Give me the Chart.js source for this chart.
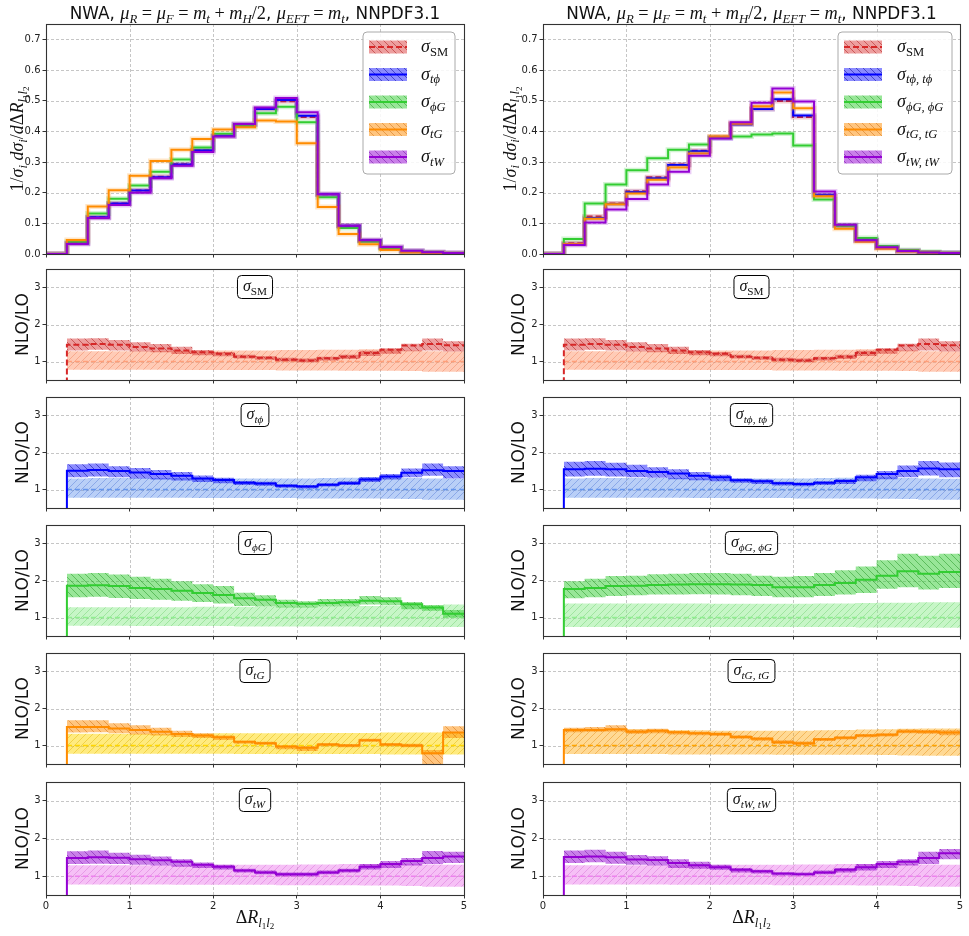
<!DOCTYPE html>
<html><head><meta charset="utf-8">
<script src="https://cdn.jsdelivr.net/npm/chart.js@4.4.1/dist/chart.umd.min.js"></script>
<style>
html,body{margin:0;padding:0;background:#fff}
body{width:969px;height:936px;position:relative;overflow:hidden}
canvas{position:absolute}
</style></head><body>
<script>
// ---------------- DATA ----------------
const binEdges = [0,0.25,0.5,0.75,1,1.25,1.5,1.75,2,2.25,2.5,2.75,3,3.25,3.5,3.75,4,4.25,4.5,4.75,5];
const xTicks = [0,1,2,3,4,5];
const topYTicks = [0,0.1,0.2,0.3,0.4,0.5,0.6,0.7];
const ratioYTicks = [1,2,3];

// normalised distributions (20 bins, first bin 0-0.25 empty)
const topL_SM = [0,0.035,0.120,0.165,0.207,0.252,0.293,0.338,0.385,0.423,0.473,0.498,0.447,0.195,0.092,0.045,0.022,0.010,0.006,0.003];
const topL_tp = [0,0.035,0.120,0.165,0.207,0.250,0.292,0.338,0.385,0.423,0.473,0.502,0.451,0.195,0.092,0.045,0.022,0.010,0.006,0.003];
const topL_pg = [0,0.040,0.132,0.180,0.223,0.268,0.308,0.347,0.392,0.417,0.459,0.480,0.430,0.185,0.085,0.040,0.018,0.008,0.004,0.002];
const topL_tg = [0,0.046,0.155,0.208,0.255,0.303,0.340,0.375,0.406,0.413,0.435,0.432,0.361,0.153,0.065,0.032,0.013,0.005,0.003,0.001];
const topL_tw = [0,0.033,0.117,0.160,0.200,0.247,0.288,0.333,0.383,0.424,0.478,0.509,0.462,0.195,0.092,0.045,0.023,0.011,0.006,0.003];

const topR_SM = [0,0.035,0.122,0.165,0.205,0.250,0.292,0.337,0.382,0.425,0.473,0.499,0.447,0.190,0.093,0.045,0.020,0.010,0.005,0.003];
const topR_tp = [0,0.033,0.117,0.163,0.202,0.247,0.290,0.335,0.378,0.422,0.473,0.505,0.452,0.193,0.093,0.045,0.021,0.010,0.005,0.003];
const topR_pg = [0,0.049,0.165,0.227,0.273,0.312,0.340,0.357,0.380,0.383,0.390,0.393,0.354,0.178,0.092,0.052,0.026,0.013,0.007,0.004];
const topR_tg = [0,0.033,0.115,0.162,0.197,0.242,0.282,0.328,0.383,0.425,0.482,0.527,0.475,0.188,0.082,0.040,0.017,0.008,0.004,0.002];
const topR_tw = [0,0.029,0.103,0.145,0.179,0.227,0.268,0.320,0.377,0.430,0.493,0.540,0.497,0.204,0.095,0.045,0.022,0.010,0.005,0.003];

// NLO/LO ratios, bins 0.25 .. 5 (19 bins)
const SM_nlo  = [1.45,1.47,1.45,1.39,1.35,1.30,1.25,1.21,1.13,1.10,1.05,1.03,1.09,1.13,1.23,1.32,1.43,1.47,1.44];
const SM_up   = [1.62,1.63,1.58,1.52,1.47,1.40,1.31,1.26,1.18,1.14,1.10,1.08,1.13,1.18,1.29,1.36,1.48,1.62,1.55];
const SM_dn   = [1.30,1.32,1.30,1.27,1.25,1.20,1.17,1.14,1.08,1.05,1.00,0.98,1.03,1.07,1.15,1.21,1.28,1.30,1.27];
const SM_loUp = [1.28,1.28,1.28,1.28,1.29,1.29,1.29,1.30,1.30,1.30,1.31,1.31,1.32,1.32,1.33,1.33,1.30,1.28,1.27];
const SM_loDn = [0.78,0.78,0.78,0.78,0.78,0.77,0.77,0.77,0.77,0.77,0.76,0.76,0.76,0.75,0.75,0.75,0.74,0.72,0.72];

const L_tp_nlo = [1.51,1.53,1.50,1.46,1.42,1.37,1.30,1.26,1.18,1.16,1.10,1.08,1.13,1.17,1.27,1.35,1.45,1.52,1.50];
const L_tp_up  = [1.68,1.70,1.63,1.58,1.53,1.47,1.38,1.32,1.23,1.21,1.14,1.12,1.17,1.22,1.33,1.42,1.57,1.70,1.63];
const L_tp_dn  = [1.33,1.35,1.33,1.30,1.27,1.24,1.20,1.17,1.12,1.10,1.05,1.03,1.08,1.12,1.20,1.27,1.33,1.37,1.30];
const R_tp_nlo = [1.55,1.56,1.55,1.50,1.47,1.43,1.37,1.33,1.25,1.22,1.17,1.15,1.18,1.23,1.33,1.42,1.50,1.57,1.55];
const R_tp_up  = [1.75,1.77,1.72,1.67,1.60,1.55,1.47,1.40,1.30,1.27,1.21,1.19,1.22,1.28,1.40,1.50,1.65,1.77,1.73];
const R_tp_dn  = [1.35,1.37,1.35,1.33,1.32,1.28,1.25,1.22,1.18,1.15,1.11,1.09,1.12,1.15,1.22,1.28,1.33,1.38,1.33];
const tp_loUp  = [1.30,1.31,1.31,1.31,1.31,1.31,1.30,1.30,1.30,1.30,1.30,1.30,1.31,1.32,1.33,1.33,1.31,1.30,1.29];
const tp_loDn  = [0.78,0.78,0.78,0.78,0.78,0.78,0.77,0.77,0.77,0.77,0.77,0.76,0.76,0.76,0.76,0.75,0.74,0.72,0.72];

const L_pg_nlo  = [1.86,1.87,1.85,1.80,1.77,1.72,1.66,1.61,1.52,1.48,1.39,1.37,1.39,1.41,1.45,1.44,1.36,1.27,1.10];
const L_pg_up   = [2.18,2.20,2.16,2.10,2.05,1.98,1.90,1.85,1.67,1.60,1.48,1.44,1.50,1.50,1.58,1.55,1.42,1.33,1.20];
const L_pg_dn   = [1.55,1.56,1.53,1.50,1.48,1.45,1.42,1.38,1.31,1.30,1.27,1.27,1.30,1.30,1.35,1.33,1.22,1.18,1.00];
const L_pg_loUp = [1.28,1.28,1.28,1.28,1.28,1.28,1.29,1.29,1.29,1.29,1.29,1.29,1.30,1.30,1.31,1.32,1.34,1.34,1.35];
const L_pg_loDn = [0.78,0.78,0.78,0.77,0.77,0.77,0.77,0.77,0.76,0.76,0.76,0.76,0.76,0.76,0.75,0.75,0.75,0.74,0.74];
const R_pg_nlo  = [1.77,1.80,1.85,1.86,1.88,1.89,1.90,1.90,1.89,1.88,1.82,1.82,1.88,1.93,2.02,2.13,2.25,2.18,2.23];
const R_pg_up   = [1.98,2.05,2.12,2.13,2.17,2.18,2.20,2.20,2.18,2.13,2.10,2.12,2.20,2.28,2.38,2.55,2.72,2.67,2.72];
const R_pg_dn   = [1.52,1.55,1.58,1.60,1.62,1.62,1.63,1.62,1.60,1.58,1.55,1.55,1.58,1.62,1.66,1.78,1.82,1.76,1.80];
const R_pg_loUp = [1.38,1.38,1.38,1.38,1.38,1.38,1.38,1.37,1.37,1.37,1.37,1.37,1.38,1.38,1.39,1.40,1.40,1.41,1.41];
const R_pg_loDn = [0.74,0.74,0.74,0.74,0.74,0.74,0.74,0.74,0.74,0.74,0.74,0.74,0.74,0.74,0.73,0.73,0.73,0.72,0.72];

const L_tg_nlo  = [1.50,1.50,1.46,1.42,1.37,1.31,1.27,1.22,1.10,1.06,0.97,0.94,1.03,1.00,1.14,1.03,1.00,0.79,1.35];
const L_tg_up   = [1.68,1.68,1.60,1.55,1.48,1.40,1.33,1.27,1.13,1.10,1.00,0.98,1.07,1.04,1.18,1.07,1.05,0.88,1.52];
const L_tg_dn   = [1.35,1.36,1.33,1.30,1.27,1.23,1.20,1.15,1.05,1.02,0.90,0.85,0.98,0.95,1.10,0.98,0.95,0.48,1.20];
const L_tg_loUp = [1.32,1.32,1.32,1.32,1.32,1.32,1.32,1.33,1.33,1.33,1.33,1.33,1.34,1.34,1.34,1.35,1.35,1.35,1.35];
const L_tg_loDn = [0.78,0.78,0.78,0.78,0.78,0.78,0.78,0.78,0.77,0.77,0.77,0.77,0.77,0.77,0.77,0.76,0.76,0.76,0.76];
const R_tg_nlo  = [1.42,1.42,1.44,1.37,1.40,1.36,1.33,1.31,1.23,1.18,1.09,1.06,1.17,1.21,1.27,1.29,1.38,1.37,1.35];
const R_tg_up   = [1.48,1.50,1.55,1.43,1.45,1.39,1.37,1.35,1.28,1.22,1.14,1.11,1.20,1.25,1.31,1.33,1.43,1.42,1.41];
const R_tg_dn   = [1.36,1.37,1.38,1.32,1.33,1.30,1.28,1.26,1.18,1.13,1.04,1.01,1.12,1.16,1.22,1.24,1.33,1.32,1.28];
const R_tg_loUp = [1.45,1.45,1.45,1.44,1.43,1.42,1.41,1.40,1.40,1.40,1.40,1.40,1.41,1.42,1.43,1.44,1.45,1.46,1.46];
const R_tg_loDn = [0.77,0.77,0.77,0.77,0.77,0.76,0.76,0.76,0.76,0.76,0.75,0.75,0.75,0.75,0.75,0.74,0.73,0.72,0.72];

const L_tw_nlo = [1.48,1.50,1.49,1.45,1.42,1.38,1.30,1.25,1.15,1.10,1.05,1.05,1.10,1.15,1.25,1.32,1.40,1.48,1.52];
const L_tw_up  = [1.66,1.68,1.62,1.57,1.52,1.45,1.36,1.30,1.20,1.15,1.10,1.10,1.15,1.20,1.32,1.40,1.48,1.67,1.65];
const L_tw_dn  = [1.32,1.33,1.32,1.30,1.28,1.25,1.22,1.18,1.10,1.05,1.00,1.00,1.05,1.10,1.18,1.22,1.28,1.32,1.35];
const R_tw_nlo = [1.51,1.52,1.50,1.44,1.43,1.35,1.29,1.24,1.17,1.13,1.07,1.05,1.10,1.17,1.24,1.32,1.38,1.48,1.61];
const R_tw_up  = [1.68,1.70,1.65,1.56,1.53,1.45,1.38,1.30,1.22,1.17,1.10,1.10,1.15,1.22,1.32,1.40,1.45,1.65,1.72];
const R_tw_dn  = [1.35,1.37,1.33,1.30,1.28,1.22,1.20,1.17,1.10,1.07,1.02,1.02,1.05,1.10,1.15,1.22,1.28,1.32,1.45];
const tw_loUp  = [1.29,1.29,1.29,1.29,1.29,1.29,1.30,1.30,1.30,1.30,1.30,1.31,1.31,1.32,1.32,1.33,1.33,1.31,1.30];
const tw_loDn  = [0.78,0.78,0.78,0.78,0.78,0.77,0.77,0.77,0.77,0.77,0.76,0.76,0.76,0.76,0.75,0.75,0.74,0.72,0.72];

// ---------------- STYLE HELPERS ----------------
Chart.defaults.font.family = '"DejaVu Sans", sans-serif';
Chart.defaults.color = '#222';

function hatch(fill, stroke, dir){
  const s = 7, c = document.createElement('canvas'); c.width = s; c.height = s;
  const x = c.getContext('2d'); x.fillStyle = fill; x.fillRect(0,0,s,s);
  x.strokeStyle = stroke; x.lineWidth = 1; x.beginPath();
  for (const k of [-s,0,s]) {
    if (dir === '/') { x.moveTo(k, s); x.lineTo(k+s, 0); }
    else { x.moveTo(k, 0); x.lineTo(k+s, s); }
  }
  x.stroke();
  return x.createPattern(c, 'repeat');
}
const STY = {
  SM: {line:'#d62728', dash:[6,3], halo:'rgba(214,39,40,0.22)',
       band: hatch('rgba(214,39,40,0.45)','rgba(170,20,20,0.5)','\\'),
       lo: hatch('rgba(255,160,122,0.55)','rgba(235,120,80,0.4)','/'), loLine:'#ff9f7a'},
  tp: {line:'#0000ff', dash:[], halo:'rgba(0,0,255,0.18)',
       band: hatch('rgba(0,0,255,0.45)','rgba(0,0,150,0.5)','\\'),
       lo: hatch('rgba(100,149,237,0.45)','rgba(70,110,210,0.4)','/'), loLine:'#6495ed'},
  pg: {line:'#32cd32', dash:[], halo:'rgba(50,205,50,0.22)',
       band: hatch('rgba(50,205,50,0.5)','rgba(20,140,20,0.45)','\\'),
       lo: hatch('rgba(144,238,144,0.5)','rgba(100,205,100,0.4)','/'), loLine:'#90ee90'},
  tg: {line:'#ff8c00', dash:[], halo:'rgba(255,140,0,0.22)',
       band: hatch('rgba(255,140,0,0.5)','rgba(205,100,0,0.45)','\\'),
       lo: hatch('rgba(255,215,0,0.5)','rgba(225,180,0,0.45)','/'), loLine:'#ffd700'},
  tgR:{line:'#ff8c00', dash:[], halo:'rgba(255,140,0,0.22)',
       band: hatch('rgba(255,140,0,0.5)','rgba(205,100,0,0.45)','\\'),
       lo: hatch('rgba(255,165,0,0.42)','rgba(225,130,0,0.4)','/'), loLine:'#ffa500'},
  tw: {line:'#9400d3', dash:[], halo:'rgba(148,0,211,0.2)',
       band: hatch('rgba(148,0,211,0.5)','rgba(100,0,150,0.45)','\\'),
       lo: hatch('rgba(238,130,238,0.5)','rgba(210,100,210,0.4)','/'), loLine:'#ee82ee'}
};

// math-like text
function fontFor(s, size){
  if (s === 'sans') return size + 'px "DejaVu Sans"';
  if (s === 'rm') return size + 'px "Liberation Serif", "DejaVu Serif"';
  return 'italic ' + size + 'px "Liberation Serif", "DejaVu Serif"';
}
const LVL = [{k:1,dy:0},{k:0.7,dy:0.22},{k:0.5,dy:0.36}];
function segFont(g, size){ return fontFor(g.s || 'it', size * LVL[g.l||0].k * (g.k||1)); }
function mathWidth(ctx, segs, size){
  let w = 0; for (const g of segs){ ctx.font = segFont(g,size); w += ctx.measureText(g.t).width; } return w;
}
function drawMath(ctx, segs, x, y, size, color, align){
  const w = mathWidth(ctx, segs, size);
  let cx = align === 'center' ? x - w/2 : (align === 'right' ? x - w : x);
  ctx.fillStyle = color; ctx.textBaseline = 'alphabetic'; ctx.textAlign = 'left';
  for (const g of segs){ ctx.font = segFont(g,size); ctx.fillText(g.t, cx, y + LVL[g.l||0].dy*size); cx += ctx.measureText(g.t).width; }
  return w;
}
const sig = (sub, st) => [{t:'σ'},{t:sub, s: st||'it', l:1}];
const LBL = {
  SM: sig('SM','rm'), tp: sig('tϕ'), pg: sig('ϕG'), tg: sig('tG'), tw: sig('tW'),
  tp2: sig('tϕ, tϕ'), pg2: sig('ϕG, ϕG'), tg2: sig('tG, tG'), tw2: sig('tW, tW')
};
const TITLE = [{t:'NWA, ',s:'sans',k:0.92},{t:'μ'},{t:'R',l:1},{t:' = ',s:'rm'},{t:'μ'},{t:'F',l:1},{t:' = ',s:'rm'},
  {t:'m'},{t:'t',l:1},{t:' + ',s:'rm'},{t:'m'},{t:'H',l:1},{t:'/2',s:'rm'},{t:', ',s:'sans',k:0.92},
  {t:'μ'},{t:'EFT',l:1},{t:' = ',s:'rm'},{t:'m'},{t:'t',l:1},{t:', NNPDF3.1',s:'sans',k:0.92}];
const YLAB_TOP = [{t:'1/',s:'rm'},{t:'σ'},{t:'i',l:1},{t:' dσ'},{t:'i',l:1},{t:'/',s:'rm'},{t:'d'},{t:'Δ',s:'rm'},{t:'R'},
  {t:'l',l:1},{t:'1',s:'rm',l:2},{t:'l',l:1},{t:'2',s:'rm',l:2}];
const XLAB = [{t:'Δ',s:'rm'},{t:'R'},{t:'l',l:1},{t:'1',s:'rm',l:2},{t:'l',l:1},{t:'2',s:'rm',l:2}];

function roundRect(ctx,x,y,w,h,r){
  ctx.beginPath(); ctx.moveTo(x+r,y); ctx.lineTo(x+w-r,y); ctx.quadraticCurveTo(x+w,y,x+w,y+r);
  ctx.lineTo(x+w,y+h-r); ctx.quadraticCurveTo(x+w,y+h,x+w-r,y+h); ctx.lineTo(x+r,y+h);
  ctx.quadraticCurveTo(x,y+h,x,y+h-r); ctx.lineTo(x,y+r); ctx.quadraticCurveTo(x,y,x+r,y); ctx.closePath();
}

// histogram: value of bin i drawn over [edge_i, edge_i+1]
function stepPts(vals, startIdx){
  const pts = vals.map((v,i) => ({x: binEdges[startIdx+i], y: v}));
  pts.push({x: binEdges[startIdx+vals.length], y: vals[vals.length-1]});
  return pts;
}

function decoPlugin(cfg){
  return {
    id: 'deco',
    beforeDatasetsDraw(chart){
      const {ctx, chartArea:a, scales:{x, y}} = chart;
      ctx.save(); ctx.strokeStyle = '#b8b8b8'; ctx.lineWidth = 0.8; ctx.setLineDash([3,2]);
      ctx.beginPath();
      for (const t of x.ticks){ const px = Math.round(x.getPixelForValue(t.value)) + 0.5;
        if (px <= a.left + 2 || px >= a.right - 2) continue; ctx.moveTo(px, a.top); ctx.lineTo(px, a.bottom); }
      for (const t of y.ticks){ const py = Math.round(y.getPixelForValue(t.value)) + 0.5;
        if (py <= a.top + 2 || py >= a.bottom - 2) continue; ctx.moveTo(a.left, py); ctx.lineTo(a.right, py); }
      ctx.stroke(); ctx.restore();
    },
    afterDraw(chart){
      const {ctx, chartArea:a} = chart;
      ctx.save();
      ctx.strokeStyle = '#333'; ctx.lineWidth = 1.1; ctx.setLineDash([]);
      ctx.strokeRect(Math.round(a.left)+0.5, Math.round(a.top)+0.5, Math.round(a.right-a.left), Math.round(a.bottom-a.top));
      const cx = (a.left + a.right)/2;
      if (cfg.title) drawMath(ctx, cfg.title, cx, a.top - 5, 18.3, '#111', 'center');
      // y label
      ctx.save(); ctx.translate(cfg.yLabX, (a.top + a.bottom)/2); ctx.rotate(-Math.PI/2);
      if (cfg.top) drawMath(ctx, YLAB_TOP, 0, 6, 18, '#111', 'center');
      else { ctx.font = '17px "DejaVu Sans"'; ctx.fillStyle = '#111'; ctx.textAlign = 'center'; ctx.textBaseline = 'middle'; ctx.fillText('NLO/LO', 0, 0); }
      ctx.restore();
      if (cfg.xLabel) drawMath(ctx, XLAB, cx, chart.height - 13, 18, '#111', 'center');
      if (cfg.box){
        const w = mathWidth(ctx, cfg.box, 16) + 11, h = 23, bx = cx - w/2, by = a.top + 6.5;
        roundRect(ctx, bx, by, w, h, 4); ctx.fillStyle = '#fff'; ctx.fill(); ctx.strokeStyle = '#000'; ctx.lineWidth = 1; ctx.stroke();
        drawMath(ctx, cfg.box, cx, by + 15.5, 16, '#111', 'center');
      }
      if (cfg.legend){
        const L = cfg.legend, bx = a.right - L.off, by = a.top + 8, bw = L.w, bh = 142;
        roundRect(ctx, bx, by, bw, bh, 4); ctx.fillStyle = 'rgba(255,255,255,0.85)'; ctx.fill();
        ctx.strokeStyle = '#aaa'; ctx.lineWidth = 1; ctx.stroke();
        L.items.forEach((it, i) => {
          const ry = by + 15 + i*27.5, st = STY[it.st];
          ctx.fillStyle = st.band; ctx.fillRect(bx + 6, ry - 6.5, 38, 13);
          ctx.strokeStyle = st.line; ctx.lineWidth = 2; ctx.setLineDash(st.dash);
          ctx.beginPath(); ctx.moveTo(bx + 6, ry); ctx.lineTo(bx + 44, ry); ctx.stroke(); ctx.setLineDash([]);
          drawMath(ctx, it.lbl, bx + L.tx, ry + 5, 18, '#111', 'left');
        });
      }
      ctx.restore();
    }
  };
}

const ratioTops = [267, 395, 523, 651, 780];

function makeChart(col, panel, datasets, cfg){
  const W = col ? 489 : 480, left = col ? 480 : 0, yW = col ? 63 : 46, padR = col ? 9 : 16;
  let top, H, padT, xH, yMin, yMax, yT, fmt;
  if (panel === 0){ top = 0; padT = 24; xH = 8; H = 262; yMin = 0; yMax = 0.75; yT = topYTicks; fmt = v => v.toFixed(1); }
  else { const T = ratioTops[panel-1]; const last = panel === 5; padT = 6; top = T - padT; xH = last ? 41 : 6;
    H = padT + 115 + xH; yMin = 0.5; yMax = 3.5; yT = ratioYTicks; fmt = v => String(v); }
  const showX = panel === 5;
  const cv = document.createElement('canvas');
  cv.width = W; cv.height = H; cv.style.left = left + 'px'; cv.style.top = top + 'px';
  cv.style.width = W + 'px'; cv.style.height = H + 'px';
  document.body.appendChild(cv);
  new Chart(cv, {
    type: 'line',
    data: { datasets },
    options: {
      responsive: false, animation: false, events: [], devicePixelRatio: 1,
      layout: { padding: { top: padT, right: padR, left: 0, bottom: 0 } },
      plugins: { legend: { display: false }, tooltip: { enabled: false }, title: { display: false } },
      elements: { point: { radius: 0 }, line: { tension: 0 } },
      scales: {
        x: { type: 'linear', min: 0, max: 5,
          afterBuildTicks: s => { s.ticks = xTicks.map(v => ({value: v})); },
          afterFit: s => { s.height = xH; },
          grid: { drawOnChartArea: false, drawTicks: true, tickLength: 3.5, tickColor: '#333', tickWidth: 1 },
          border: { display: false },
          ticks: { display: showX, maxRotation: 0, autoSkip: false, padding: 2, color: '#222',
                   font: { size: 10, family: '"DejaVu Sans"' }, callback: v => String(v) } },
        y: { type: 'linear', min: yMin, max: yMax,
          afterBuildTicks: s => { s.ticks = yT.map(v => ({value: v})); },
          afterFit: s => { s.width = yW; },
          grid: { drawOnChartArea: false, drawTicks: true, tickLength: 3.5, tickColor: '#333', tickWidth: 1 },
          border: { display: false },
          ticks: { autoSkip: false, padding: 2, color: '#222', font: { size: 10, family: '"DejaVu Sans"' }, callback: v => fmt(v) } }
      }
    },
    plugins: [decoPlugin(Object.assign({ yLabX: col ? (panel === 0 ? 29.5 : 40) : (panel === 0 ? 17 : 23.5), top: panel === 0, xLabel: showX }, cfg))]
  });
}

function topDatasets(series){
  const ds = [];
  series.forEach((s, i) => {
    const st = STY[s.st], pts = stepPts(s.v, 0);
    ds.push({ data: pts, stepped: 'before', borderColor: st.halo, borderWidth: 5, fill: false, order: 30 - i*2 });
    ds.push({ data: pts, stepped: 'before', borderColor: st.line, borderWidth: 2, borderDash: st.dash, fill: false, order: 29 - i*2 });
  });
  return ds;
}
function ratioDatasets(st, nlo, up, dn, loUp, loDn){
  const S = STY[st];
  const loRef = loUp.map(() => 1); // LO/LO
  return [
    { data: stepPts(loUp,1), stepped: 'before', borderWidth: 0, borderColor: 'rgba(0,0,0,0)', fill: '+1', backgroundColor: S.lo, order: 50 },
    { data: stepPts(loDn,1), stepped: 'before', borderWidth: 0, borderColor: 'rgba(0,0,0,0)', fill: false, order: 49 },
    { data: stepPts(loRef,1), stepped: 'before', borderWidth: 1.5, borderColor: S.loLine, borderDash: [5,3], fill: false, order: 48 },
    { data: stepPts(up,1), stepped: 'before', borderWidth: 0, borderColor: 'rgba(0,0,0,0)', fill: '+1', backgroundColor: S.band, order: 40 },
    { data: stepPts(dn,1), stepped: 'before', borderWidth: 0, borderColor: 'rgba(0,0,0,0)', fill: false, order: 39 },
    { data: [{x: binEdges[0], y: 0}].concat(stepPts(nlo,1)), stepped: 'before', borderWidth: 2, borderColor: S.line, borderDash: S.dash, fill: false, order: 1 }
  ];
}

// ---------------- LEFT COLUMN ----------------
makeChart(0, 0, topDatasets([{st:'SM',v:topL_SM},{st:'tp',v:topL_tp},{st:'pg',v:topL_pg},{st:'tg',v:topL_tg},{st:'tw',v:topL_tw}]),
  { title: TITLE, legend: { off: 101, w: 92, tx: 58, items: [
    {st:'SM',lbl:LBL.SM},{st:'tp',lbl:LBL.tp},{st:'pg',lbl:LBL.pg},{st:'tg',lbl:LBL.tg},{st:'tw',lbl:LBL.tw}] } });
makeChart(0, 1, ratioDatasets('SM', SM_nlo, SM_up, SM_dn, SM_loUp, SM_loDn), { box: LBL.SM });
makeChart(0, 2, ratioDatasets('tp', L_tp_nlo, L_tp_up, L_tp_dn, tp_loUp, tp_loDn), { box: LBL.tp });
makeChart(0, 3, ratioDatasets('pg', L_pg_nlo, L_pg_up, L_pg_dn, L_pg_loUp, L_pg_loDn), { box: LBL.pg });
makeChart(0, 4, ratioDatasets('tg', L_tg_nlo, L_tg_up, L_tg_dn, L_tg_loUp, L_tg_loDn), { box: LBL.tg });
makeChart(0, 5, ratioDatasets('tw', L_tw_nlo, L_tw_up, L_tw_dn, tw_loUp, tw_loDn), { box: LBL.tw });

// ---------------- RIGHT COLUMN ----------------
makeChart(1, 0, topDatasets([{st:'SM',v:topR_SM},{st:'tp',v:topR_tp},{st:'pg',v:topR_pg},{st:'tg',v:topR_tg},{st:'tw',v:topR_tw}]),
  { title: TITLE, legend: { off: 122, w: 114, tx: 59, items: [
    {st:'SM',lbl:LBL.SM},{st:'tp',lbl:LBL.tp2},{st:'pg',lbl:LBL.pg2},{st:'tg',lbl:LBL.tg2},{st:'tw',lbl:LBL.tw2}] } });
makeChart(1, 1, ratioDatasets('SM', SM_nlo, SM_up, SM_dn, SM_loUp, SM_loDn), { box: LBL.SM });
makeChart(1, 2, ratioDatasets('tp', R_tp_nlo, R_tp_up, R_tp_dn, tp_loUp, tp_loDn), { box: LBL.tp2 });
makeChart(1, 3, ratioDatasets('pg', R_pg_nlo, R_pg_up, R_pg_dn, R_pg_loUp, R_pg_loDn), { box: LBL.pg2 });
makeChart(1, 4, ratioDatasets('tgR', R_tg_nlo, R_tg_up, R_tg_dn, R_tg_loUp, R_tg_loDn), { box: LBL.tg2 });
makeChart(1, 5, ratioDatasets('tw', R_tw_nlo, R_tw_up, R_tw_dn, tw_loUp, tw_loDn), { box: LBL.tw2 });
</script>
</body></html>
